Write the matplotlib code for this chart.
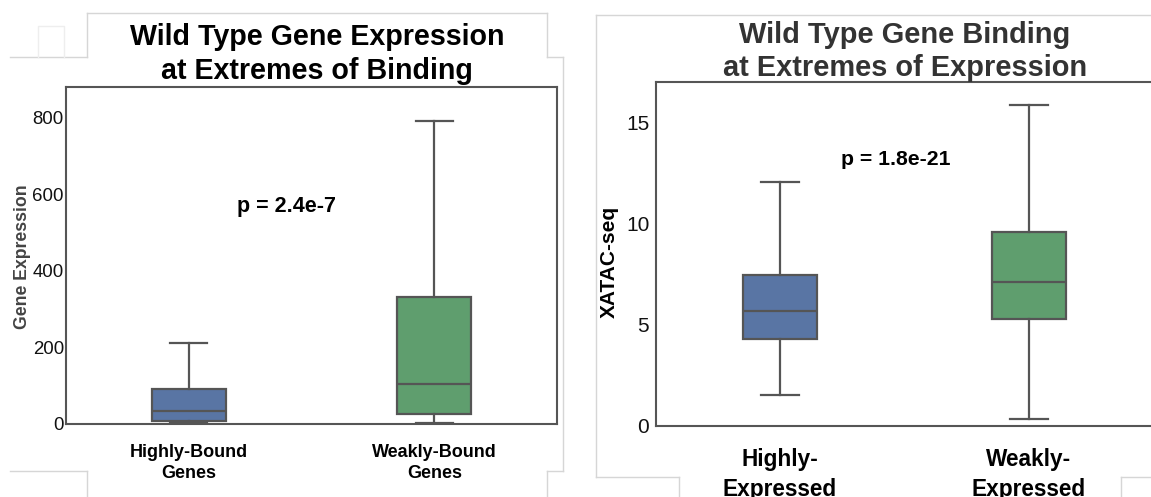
import matplotlib.pyplot as plt
from matplotlib.lines import Line2D

plt.rcParams['font.family'] = ['Liberation Sans', 'DejaVu Sans']

# Panel 1: expression of highly vs weakly bound genes
expr_groups = ["Highly-Bound\nGenes", "Weakly-Bound\nGenes"]
expr_low = [2, 2]
expr_q1 = [9, 25]
expr_med = [35, 104]
expr_q3 = [92, 331]
expr_high = [212, 790]
expr_pval = "p = 2.4e-7"

# Panel 2: binding of highly vs weakly expressed genes
bind_groups = ["Highly-\nExpressed", "Weakly-\nExpressed"]
bind_low = [1.53, 0.31]
bind_q1 = [4.28, 5.27]
bind_med = [5.67, 7.12]
bind_q3 = [7.45, 9.57]
bind_high = [12.05, 15.9]
bind_pval = "p = 1.8e-21"

box_colors = ["#5975a4", "#5f9e6e"]
line_col = "#555555"
W, H = 1151, 497


def make_stats(low, q1, med, q3, high):
    return [dict(whislo=a, q1=b, med=c, q3=d, whishi=e, fliers=[])
            for a, b, c, d, e in zip(low, q1, med, q3, high)]


def draw_panel(ax, stats, labels, tick_size, label_size, xpad, ypad, spacing):
    lp = dict(color=line_col, linewidth=1.6)
    bp = ax.bxp(stats, positions=[0, 1], widths=0.3, patch_artist=True,
                showfliers=False, boxprops=dict(edgecolor=line_col, linewidth=1.6),
                medianprops=lp, whiskerprops=lp, capprops=lp)
    for patch, c in zip(bp['boxes'], box_colors):
        patch.set_facecolor(c)
    ax.set_xlim(-0.5, 1.5)
    ax.set_xticks([0, 1])
    ax.set_xticklabels(labels, fontsize=label_size, fontweight='bold', linespacing=spacing)
    ax.tick_params(axis='x', length=0, pad=xpad)
    ax.tick_params(axis='y', length=0, pad=ypad, labelsize=tick_size)
    for lbl in ax.get_yticklabels():
        lbl.set_color('#111111')
    for sp in ax.spines.values():
        sp.set_color(line_col)
        sp.set_linewidth(1.5)


fig = plt.figure(figsize=(W / 100, H / 100), dpi=100)

# light frame lines around the two panels
frame = [
    ([87, 547], [13, 13]), ([87, 87], [13, 57]), ([10, 87], [57, 57]),
    ([547, 547], [13, 57]), ([547, 563], [57, 57]), ([563, 563], [57, 471]),
    ([10, 87], [471, 471]), ([87, 87], [471, 497]),
    ([547, 563], [471, 471]), ([547, 547], [471, 497]),
    ([596, 1151], [15, 15]), ([596, 596], [15, 477]), ([596, 679], [477, 477]),
    ([679, 679], [477, 497]), ([1121, 1151], [477, 477]), ([1121, 1121], [477, 497]),
]
for xs, ys in frame:
    fig.add_artist(Line2D([x / W for x in xs], [1 - y / H for y in ys],
                          color='#d6d6d6', linewidth=1.0))
fig.add_artist(Line2D([38 / W, 38 / W, 64 / W, 64 / W], [1 - 57 / H, 1 - 26 / H, 1 - 26 / H, 1 - 57 / H],
                      color='#eeeeee', linewidth=1.0))

ax1 = fig.add_axes([66 / W, 1 - 424 / H, (557 - 66) / W, (424 - 87) / H])
draw_panel(ax1, make_stats(expr_low, expr_q1, expr_med, expr_q3, expr_high),
           expr_groups, 13.4, 13, 14.5, 1.5, 1.27)
ax1.set_ylim(0, 880)
ax1.set_yticks([0, 200, 400, 600, 800])
ax1.set_ylabel("Gene Expression", fontsize=12.7, fontweight='bold', color='#444444', va='center')
ax1.yaxis.set_label_coords(-0.0876, 0.497)
fig.text(317 / W, 1 - 37 / H, "Wild Type Gene Expression", ha='center', va='center',
         fontsize=20.6, fontweight='bold', color='black')
fig.text(317 / W, 1 - 71 / H, "at Extremes of Binding", ha='center', va='center',
         fontsize=20.6, fontweight='bold', color='black')
ax1.text(0.4, 567, expr_pval, ha='center', va='center', fontsize=15.5, fontweight='bold')

ax2 = fig.add_axes([655.5 / W, 1 - 425.5 / H, 498 / W, (425.5 - 82.3) / H])
draw_panel(ax2, make_stats(bind_low, bind_q1, bind_med, bind_q3, bind_high),
           bind_groups, 15, 16.3, 16, 4.5, 1.38)
ax2.set_ylim(0, 17)
ax2.set_yticks([0, 5, 10, 15])
ax2.set_ylabel("XATAC-seq", fontsize=15, fontweight='bold', color='black', va='center')
ax2.yaxis.set_label_coords(-0.0934, 0.476)
fig.text(905 / W, 1 - 35 / H, "Wild Type Gene Binding", ha='center', va='center',
         fontsize=20.9, fontweight='bold', color='#333333')
fig.text(905 / W, 1 - 68 / H, "at Extremes of Expression", ha='center', va='center',
         fontsize=20.9, fontweight='bold', color='#333333')
ax2.text(0.466, 13.2, bind_pval, ha='center', va='center', fontsize=15.3, fontweight='bold')

fig.savefig("out.png", dpi=100)
